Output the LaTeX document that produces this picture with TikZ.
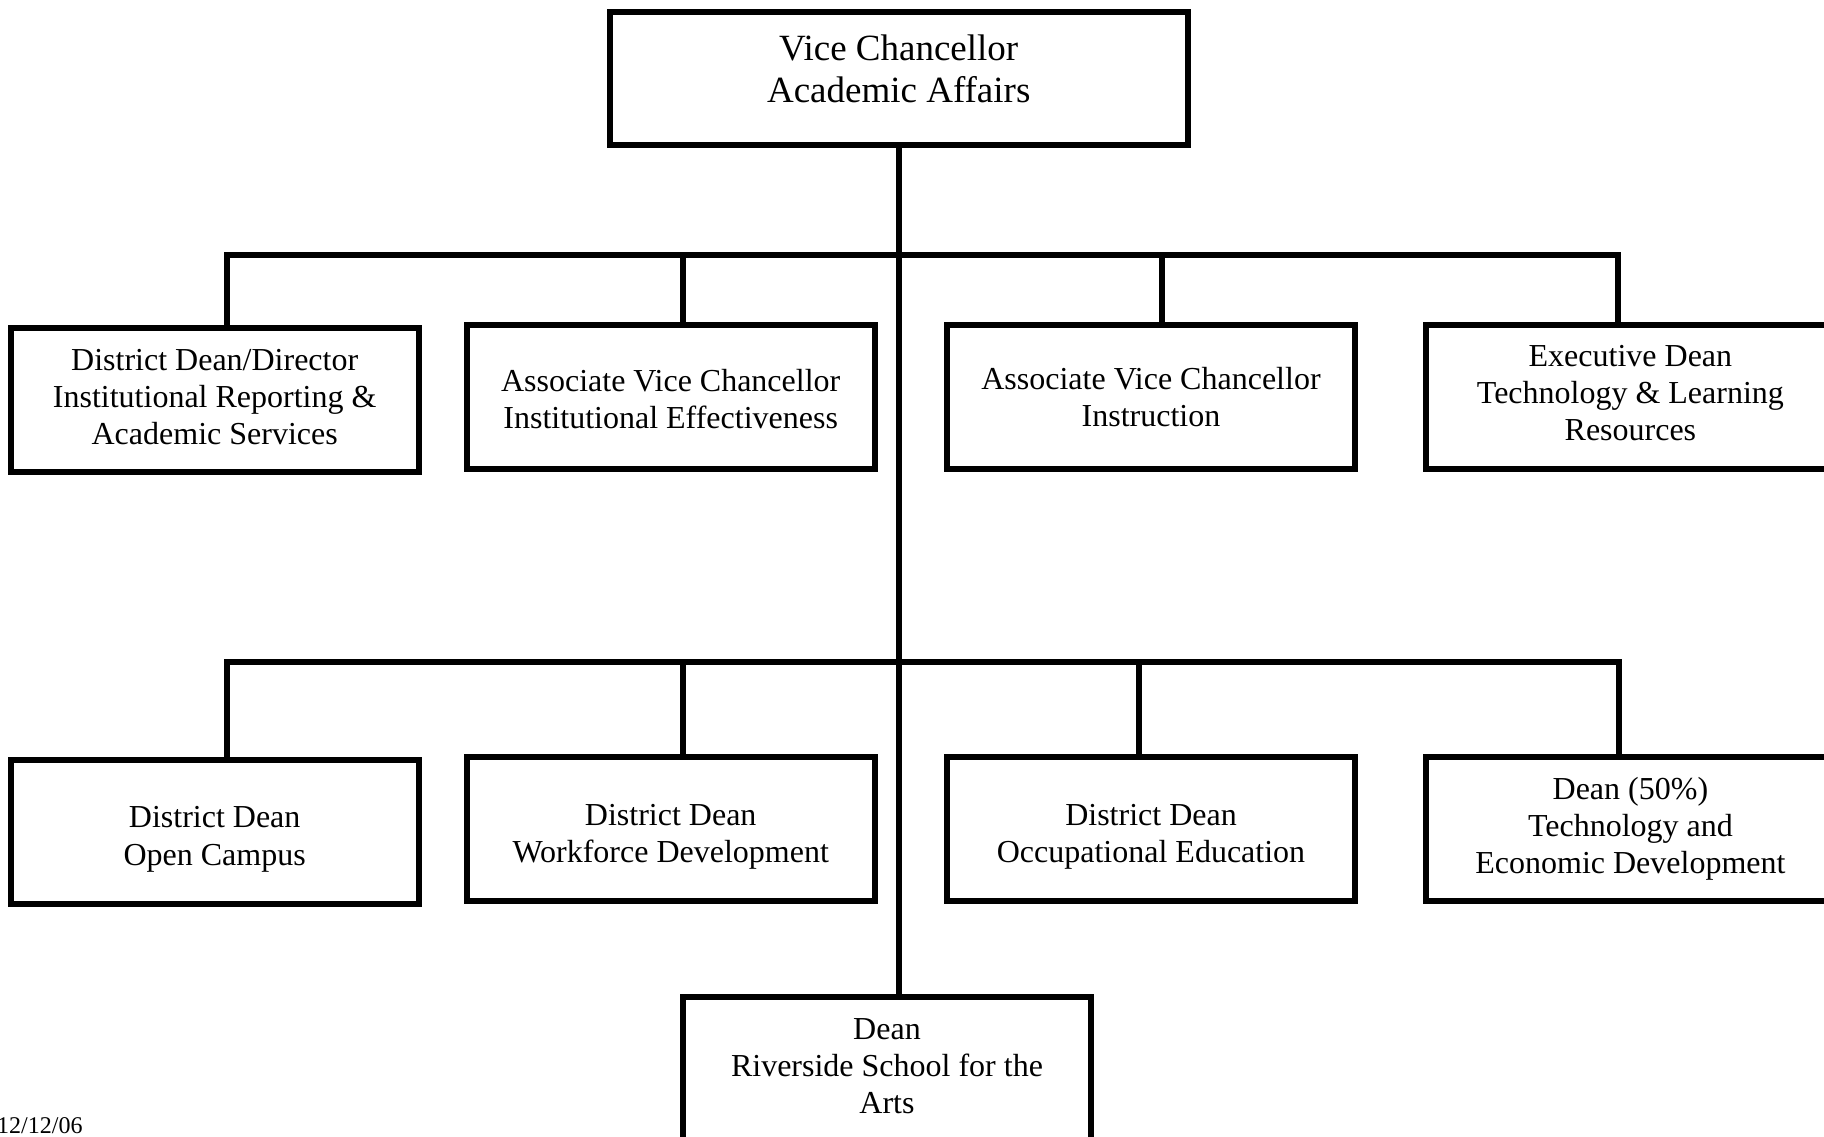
\documentclass[tikz,border=0pt]{standalone}
\usepackage{fontspec}
\setmainfont{Liberation Serif}
\begin{document}
\begin{tikzpicture}[x=1pt,y=-1pt,
  box/.style={draw,line width=6pt,minimum width=408pt,minimum height=144pt,align=center,inner sep=0pt,font=\fontsize{32}{37.2}\selectfont},
  topbox/.style={box,minimum width=578pt,minimum height=133pt,font=\fontsize{37}{42}\selectfont},
  conn/.style={line width=6pt}]
\useasboundingbox (0,0) rectangle (1824,1136);
\clip (0,0) rectangle (1824,1136);

\node[topbox] (top) at (898.7,78) {Vice Chancellor\\Academic Affairs\\[-23pt]\mbox{}};

\node[box] (A) at (214.7,400.2) {District Dean/Director\\Institutional Reporting \&\\Academic Services\\[-30pt]\mbox{}};
\node[box] (B) at (670.7,396.7) {\mbox{}\\[-11pt]Associate Vice Chancellor\\Institutional Effectiveness};
\node[box] (C) at (1151,396.7) {Associate Vice Chancellor\\Instruction};
\node[box] (D) at (1630.4,396.7) {Executive Dean\\Technology \& Learning\\Resources\\[-30pt]\mbox{}};

\node[box] (E) at (214.7,831.8) {\mbox{}\\[-1pt]District Dean\\Open Campus};
\node[box] (F) at (670.7,828.9) {\mbox{}\\[-1pt]District Dean\\Workforce Development};
\node[box] (G) at (1151,828.9) {\mbox{}\\[-1pt]District Dean\\Occupational Education};
\node[box] (H) at (1630.4,828.9) {Dean (50\%)\\Technology and\\Economic Development};

\node[box] (I) at (887,1069) {Dean\\Riverside School for the\\Arts\\[-31pt]\mbox{}};

\node[anchor=base west,inner sep=0pt,font=\fontsize{24}{28}\selectfont] (date) at (-3,1133) {12/12/06};

\coordinate (d1) at (227,255);
\coordinate (d2) at (683,255);
\coordinate (d3) at (1162,255);
\coordinate (d4) at (1618,255);
\coordinate (e1) at (227,662);
\coordinate (e2) at (683,662);
\coordinate (e3) at (1139,662);
\coordinate (e4) at (1619,662);

\draw[conn] (top.south) -- (top.south |- I.north);
\draw[conn] (A.north -| d1) -- (d1) -- (d4) -- (D.north -| d4);
\draw[conn] (d2) -- (B.north -| d2);
\draw[conn] (d3) -- (C.north -| d3);
\draw[conn] (E.north -| e1) -- (e1) -- (e4) -- (H.north -| e4);
\draw[conn] (e2) -- (F.north -| e2);
\draw[conn] (e3) -- (G.north -| e3);
\end{tikzpicture}
\end{document}
